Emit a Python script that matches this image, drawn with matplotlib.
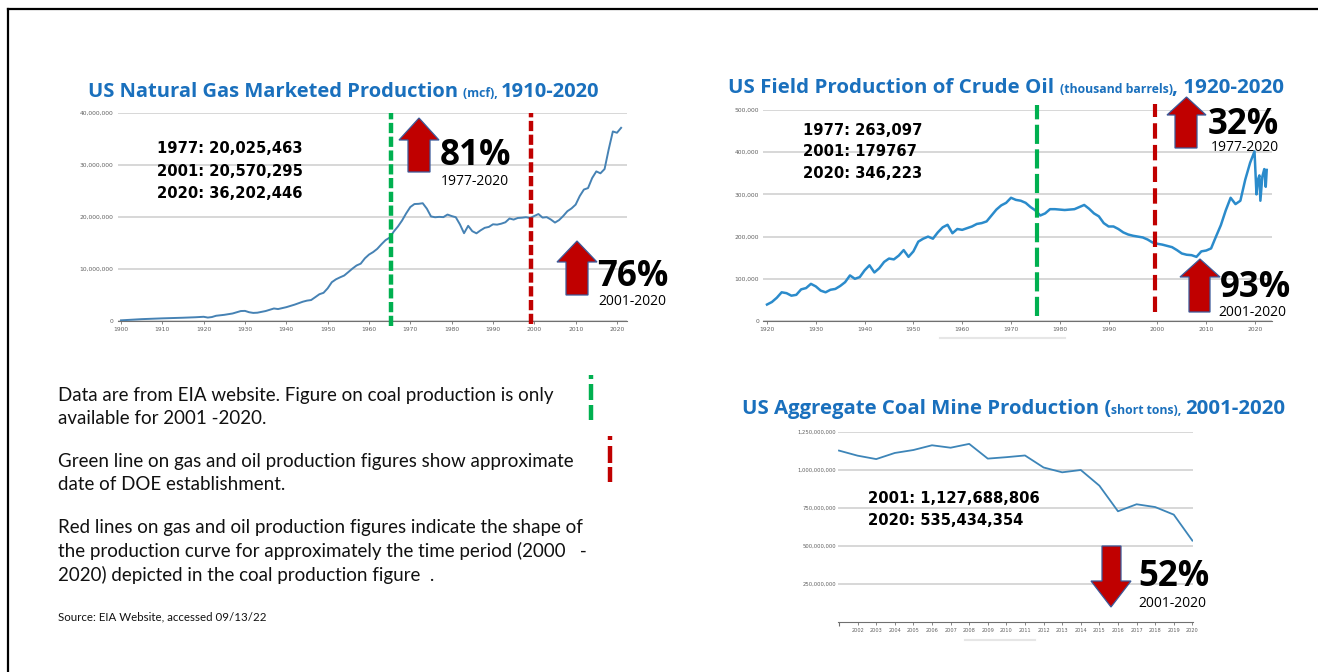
import matplotlib
matplotlib.use('Agg')
import matplotlib.pyplot as plt
from matplotlib.patches import Polygon
from matplotlib.lines import Line2D
from matplotlib.ticker import FuncFormatter

# ---------------- DATA ----------------
gas_years = [1900, 1905, 1910, 1915, 1918, 1920, 1921, 1922, 1923, 1925, 1927, 1929, 1930,
             1931, 1932, 1933, 1935, 1937, 1938, 1940, 1942, 1944, 1945, 1946, 1947, 1948,
             1949] + list(range(1950, 2022))
gas_values_k = [128, 356, 509, 629, 721, 812, 662, 763, 1007, 1188, 1445, 1917, 1943,
                1686, 1555, 1597, 1917, 2407, 2296, 2660, 3146, 3711, 3919, 4031, 4582, 5148,
                5420,
                6282, 7457, 8013, 8397, 8743, 9405, 10082, 10680, 11030, 12046,
                12771, 13254, 13877, 14747, 15547, 16040, 17207, 18171, 19322, 20698,
                21921, 22493, 22532, 22648, 21601, 20109, 19952, 20025, 19974, 20471,
                20180, 19956, 18582, 16884, 18304, 17270, 16859, 17433, 17918, 18095,
                18594, 18532, 18712, 18982, 19710, 19506, 19812, 19866, 19961, 19805,
                20198, 20570, 19885, 19974, 19517, 18927, 19410, 20196, 21112, 21648,
                22382, 24036, 25283, 25562, 27498, 28772, 28401, 29224, 33009, 36446,
                36202, 37150]
gas_values = [v * 1000 for v in gas_values_k]

oil_years = list(range(1920, 2020)) + [2019.9, 2020.3, 2020.6, 2020.9, 2021.1, 2021.5,
                                       2021.9, 2022.2, 2022.4]
oil_values_k = [39, 45, 55, 68, 66, 60, 62, 75, 78, 88,
                82, 72, 68, 74, 76, 83, 92, 108, 100, 104,
                120, 132, 115, 125, 140, 148, 146, 155, 168, 152,
                165, 188, 195, 200, 195, 210, 222, 228, 208, 218,
                216, 220, 224, 230, 232, 236, 250, 264, 274, 280,
                292, 287, 285, 280, 270, 262, 250, 255, 265, 265,
                264, 263, 264, 265, 270, 275, 266, 255, 248, 232,
                224, 224, 218, 210, 205, 202, 200, 198, 193, 186,
                183, 181, 178, 175, 168, 160, 157, 156, 152, 165,
                167, 172, 200, 227, 262, 292, 277, 285, 335, 375,
                402, 300, 335, 345, 285, 342, 360, 318, 358]
oil_values = [v * 1000 for v in oil_values_k]

coal_years = list(range(2001, 2021))
coal_values_m = [1127.7, 1094.3, 1071.8, 1112.1, 1131.5, 1162.7, 1146.6, 1171.8, 1074.9,
                 1084.4, 1095.6, 1016.5, 984.8, 1000.0, 896.9, 728.4, 774.6, 756.2, 706.3,
                 535.4]
coal_values = [v * 1e6 for v in coal_values_m]

gas_ticks = [0, 10_000_000, 20_000_000, 30_000_000, 40_000_000]
gas_xticks = list(range(1900, 2021, 10))
oil_ticks = [0, 100_000, 200_000, 300_000, 400_000, 500_000]
oil_xticks = list(range(1920, 2021, 10))
coal_ticks = [250_000_000, 500_000_000, 750_000_000, 1_000_000_000, 1_250_000_000]
coal_xticks = list(range(2002, 2021))

doe_year_gas, coal_start_gas = 1965.3, 1999.3
doe_year_oil, coal_start_oil = 1975.4, 1999.6

gas_stats = ["1977: 20,025,463", "2001: 20,570,295", "2020: 36,202,446"]
oil_stats = ["1977: 263,097", "2001: 179767", "2020: 346,223"]
coal_stats = ["2001: 1,127,688,806", "2020: 535,434,354"]

body_lines = ["Data are from EIA website. Figure on coal production is only",
              "available for 2001 -2020.",
              "Green line on gas and oil production figures show approximate",
              "date of DOE establishment.",
              "Red lines on gas and oil production figures indicate the shape of",
              "the production curve for approximately the time period (2000   -",
              "2020) depicted in the coal production figure  ."]
source_text = "Source: EIA Website, accessed 09/13/22"

# ---------------- FIGURE ----------------
W, H = 1318, 672
fig = plt.figure(figsize=(W / 100, H / 100), dpi=100)
fig.patch.set_facecolor('white')
renderer = fig.canvas.get_renderer()

RED = '#c00000'
GREEN = '#00b050'
BLUE_T = '#1a70bd'
EDGE = '#3b5a9a'


def fx(x):
    return x / W


def fy(y):
    return 1 - y / H


def add_axes(l, t, r, b):
    return fig.add_axes([fx(l), fy(b), (r - l) / W, (b - t) / H])


def twidth(t):
    return t.get_window_extent(renderer=renderer).width


def fit_text(x, y, s, width, size0=10, **kw):
    t = fig.text(fx(x), fy(y), s, fontsize=size0, ha='left', va='baseline', **kw)
    w = twidth(t)
    t.set_fontsize(size0 * width / w)
    return t


def put_text(x, y, s, size, **kw):
    return fig.text(fx(x), fy(y), s, fontsize=size, ha='left', va='baseline', **kw)


def rich(x, y, pieces, width, color=BLUE_T, family='Open Sans'):
    texts = [fig.text(fx(x), fy(y), s, fontsize=10 * r, ha='left', va='baseline',
                      color=color, family=family, fontweight='bold') for s, r in pieces]

    def layout(base):
        cx = x
        for t, (s, r) in zip(texts, pieces):
            t.set_fontsize(base * r)
            t.set_x(fx(cx))
            cx += twidth(t)
        return cx - x

    w = layout(10)
    layout(10 * width / w)


def up_arrow(hl, hr, tip, hb, sl, sr, bottom):
    cx = (hl + hr) / 2
    pts = [(cx, tip), (hr, hb), (sr, hb), (sr, bottom), (sl, bottom), (sl, hb), (hl, hb)]
    fig.patches.append(Polygon([(fx(a), fy(b)) for a, b in pts], closed=True,
                               transform=fig.transFigure, facecolor=RED, edgecolor=EDGE,
                               lw=0.9))


def down_arrow(hl, hr, tip, ht, sl, sr, top):
    cx = (hl + hr) / 2
    pts = [(sl, top), (sr, top), (sr, ht), (hr, ht), (cx, tip), (hl, ht), (sl, ht)]
    fig.patches.append(Polygon([(fx(a), fy(b)) for a, b in pts], closed=True,
                               transform=fig.transFigure, facecolor=RED, edgecolor=EDGE,
                               lw=0.9))


def fig_line(x0, y0, x1, y1, **kw):
    fig.add_artist(Line2D([fx(x0), fx(x1)], [fy(y0), fy(y1)], transform=fig.transFigure, **kw))


comma = FuncFormatter(lambda v, p: f"{int(v):,}")


def style_axes(ax, ytick_pad=3):
    for s in ['top', 'right', 'left']:
        ax.spines[s].set_visible(False)
    ax.spines['bottom'].set_color('#707070')
    ax.spines['bottom'].set_linewidth(0.8)
    ax.yaxis.set_major_formatter(comma)
    ax.tick_params(axis='y', length=0, pad=ytick_pad, labelsize=4.3, labelcolor='#606060')
    ax.tick_params(axis='x', length=2.5, width=0.6, color='#707070', pad=1.5,
                   labelsize=4.3, labelcolor='#606060')
    ax.grid(axis='y', color='#d4d4d4', lw=1.3)
    ax.set_axisbelow(True)
    ax.patch.set_alpha(0)


# border
fig_line(8, 9, W, 9, color='black', lw=1.6)
fig_line(8, 9, 8, H, color='black', lw=1.6)

# ---------------- GAS ----------------
axg = add_axes(117.7, 113, 627.3, 321)
axg.plot(gas_years, gas_values, color='#4682b4', lw=1.4, zorder=3)
axg.set_xlim(1899.2, 2022.5)
axg.set_ylim(0, 40_000_000)
axg.set_yticks(gas_ticks)
axg.set_xticks(gas_xticks)
style_axes(axg)
axg.plot([doe_year_gas] * 2, [-0.9e6, 40e6], color=GREEN, lw=3.2, dashes=(2.3, 0.8),
         clip_on=False, zorder=4)
axg.plot([coal_start_gas] * 2, [-0.5e6, 40e6], color=RED, lw=3.2, dashes=(2.3, 0.8),
         clip_on=False, zorder=4)

rich(88, 97, [("US Natural Gas Marketed Production ", 1.0), ("(mcf), ", 0.6),
              ("1910-2020", 1.0)], 512)
fit_text(157, 153, gas_stats[0], 145, family='DejaVu Sans', fontweight='bold')
sz = fig.texts[-1].get_fontsize()
put_text(157, 176, gas_stats[1], sz, family='DejaVu Sans', fontweight='bold')
put_text(157, 198, gas_stats[2], sz, family='DejaVu Sans', fontweight='bold')

up_arrow(399, 439, 118, 140, 408, 430, 172)
pct = fit_text(440, 165, "81%", 71, family='Open Sans', fontweight='bold')
psz = pct.get_fontsize()
sub = fit_text(441, 185, "1977-2020", 68, family='Open Sans')
ssz = sub.get_fontsize()

up_arrow(557, 597, 241, 262, 566, 588, 295)
put_text(597, 286, "76%", psz, family='Open Sans', fontweight='bold')
put_text(598, 305, "2001-2020", ssz, family='Open Sans')

# ---------------- OIL ----------------
axo = add_axes(763.1, 110, 1271.6, 321)
axo.plot(oil_years, oil_values, color='#2b8bcb', lw=1.8, zorder=3)
axo.set_xlim(1919.2, 2023.4)
axo.set_ylim(0, 500_000)
axo.set_yticks(oil_ticks)
axo.set_xticks(oil_xticks)
style_axes(axo)
axo.plot([doe_year_oil] * 2, [12_000, 512_000], color=GREEN, lw=3.0, dashes=(4.6, 1.3),
         clip_on=False, zorder=4)
axo.plot([coal_start_oil] * 2, [22_000, 515_000], color=RED, lw=3.0, dashes=(3.7, 1.5),
         clip_on=False, zorder=4)
fig_line(940, 338, 1065, 338, color='#e6e6e6', lw=1.5)

rich(728, 93, [("US Field Production of Crude Oil ", 1.0), ("(thousand barrels)", 0.6),
               (", 1920-2020", 1.0)], 556)
for i, s in enumerate(oil_stats):
    put_text(803, 135 + 21.5 * i, s, sz, family='DejaVu Sans', fontweight='bold')

up_arrow(1167, 1206, 97, 115, 1175, 1197, 148)
put_text(1208, 133.5, "32%", psz, family='Open Sans', fontweight='bold')
put_text(1211, 151, "1977-2020", ssz, family='Open Sans')

up_arrow(1180, 1220, 259, 277, 1189, 1210, 312)
put_text(1220, 297, "93%", psz, family='Open Sans', fontweight='bold')
put_text(1218, 316, "2001-2020", ssz, family='Open Sans')

# ---------------- COAL ----------------
axc = add_axes(837.7, 432, 1193.3, 622)
axc.plot(coal_years, coal_values, color='#3d85b8', lw=1.3, zorder=3)
axc.set_xlim(2000.93, 2020.05)
axc.set_ylim(0, 1_250_000_000)
axc.set_yticks(coal_ticks)
axc.set_xticks(coal_xticks)
axc.set_xticks([2001], minor=True)
style_axes(axc, ytick_pad=1)
axc.tick_params(axis='x', labelsize=3.6)
axc.tick_params(axis='x', which='minor', length=3, width=0.8, color='#707070')
axc.tick_params(axis='y', labelsize=3.8)
fig_line(965, 640, 1035, 640, color='#e6e6e6', lw=1.5)

rich(742, 414, [("US Aggregate Coal Mine Production (", 1.0), ("short tons), ", 0.6),
                ("2001-2020", 1.0)], 544)
put_text(868, 503, coal_stats[0], sz, family='DejaVu Sans', fontweight='bold')
put_text(868, 525, coal_stats[1], sz, family='DejaVu Sans', fontweight='bold')

down_arrow(1091, 1131, 607, 581, 1102, 1121, 546)
put_text(1138, 586, "52%", psz, family='Open Sans', fontweight='bold')
put_text(1138, 607, "2001-2020", ssz, family='Open Sans')

# ---------------- TEXT BLOCK ----------------
b0 = fit_text(58, 401, body_lines[0], 496, family='Lato', color='#111111')
bsz = b0.get_fontsize()
for y, s in zip([424, 467, 490, 533, 557, 581], body_lines[1:]):
    put_text(58, y, s, bsz, family='Lato', color='#111111')
fit_text(58, 620, source_text, 207, family='Lato', color='#111111')

# legend marks
for y0, y1 in [(375, 379), (384, 400), (405, 420)]:
    fig_line(591, y0, 591, y1, color=GREEN, lw=3.2, solid_capstyle='butt')
for y0, y1 in [(436, 440), (446, 463), (467, 482)]:
    fig_line(610, y0, 610, y1, color=RED, lw=3.2, solid_capstyle='butt')

fig.savefig('out.png', dpi=100, facecolor='white')
